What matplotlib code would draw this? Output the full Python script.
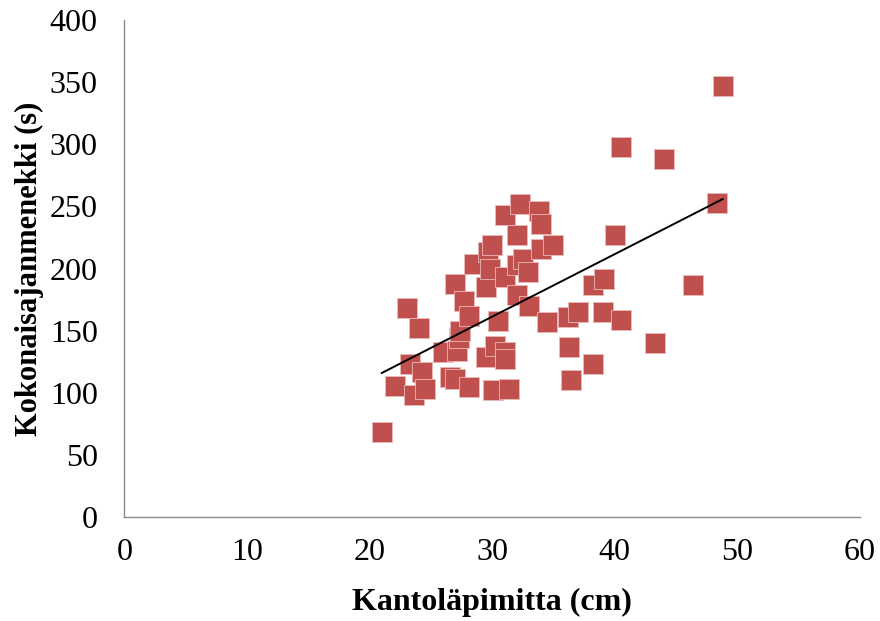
import matplotlib
matplotlib.use("Agg")
import matplotlib.pyplot as plt
import numpy as np

# stump diameter (cm) and total time consumption (s)
diameter = [21.0, 22.1, 23.05, 23.3, 23.6, 24.0, 24.3, 24.5, 26.0, 26.6,
            27.0, 27.0, 27.1, 27.3, 27.4, 27.7, 28.1, 28.1, 28.5, 29.5,
            29.5, 29.7, 29.8, 30.0, 30.1, 30.2, 30.5, 31.06, 31.06, 31.06,
            31.06, 31.4, 32.0, 32.0, 32.0, 32.3, 32.5, 32.9, 33.0, 33.85,
            34.0, 34.0, 34.5, 35.0, 36.2, 36.3, 36.4, 37.0, 38.25, 38.25,
            39.0, 39.1, 40.0, 40.5, 40.5, 43.3, 44.0, 46.4, 48.3, 48.8]
total_time = [69, 106, 168, 123, 98, 152, 117, 103, 133, 113,
              111, 188, 134, 144, 150, 174, 162, 105, 204, 185,
              129, 213, 200, 219, 102, 138, 158, 243, 193, 133,
              127, 103, 227, 203, 178.5, 252, 208, 197, 170, 246,
              236, 216, 157, 219, 161, 137, 110.5, 165, 186.5, 123,
              165, 192, 227, 159, 298, 140, 288, 187, 253, 347]

x_ticks = [0, 10, 20, 30, 40, 50, 60]
y_ticks = [0, 50, 100, 150, 200, 250, 300, 350, 400]

plt.rcParams["font.family"] = ["Liberation Serif", "DejaVu Serif"]

fig = plt.figure(figsize=(8.8, 6.21), dpi=100)
ax = fig.add_axes([0.1412, 0.167, 0.8361, 0.8008])

x = np.array(diameter)
y = np.array(total_time)
ax.scatter(x, y, marker="s", s=200, color="#C0504D", edgecolors="#eab9b7",
           linewidths=0.6, zorder=2)

# linear trendline over the observed range
slope, intercept = np.polyfit(x, y, 1)
xl = np.array([x.min(), x.max()])
ax.plot(xl, slope * xl + intercept, color="black", lw=1.4, zorder=3)

ax.set_xlim(0, 60)
ax.set_ylim(0, 400)
ax.set_xticks(x_ticks)
ax.set_yticks(y_ticks)
ax.tick_params(length=0, labelsize=23)
ax.tick_params(axis="x", pad=15)
ax.tick_params(axis="y", pad=19)

for side in ("top", "right"):
    ax.spines[side].set_visible(False)
for side in ("left", "bottom"):
    ax.spines[side].set_color("#8c8c8c")
    ax.spines[side].set_linewidth(1.0)

ax.set_xlabel("Kantoläpimitta (cm)", fontsize=23, fontweight="bold", labelpad=15)
ax.set_ylabel("Kokonaisajanmenekki (s)", fontsize=22, fontweight="bold", labelpad=4)

fig.savefig("out.png", dpi=100)
